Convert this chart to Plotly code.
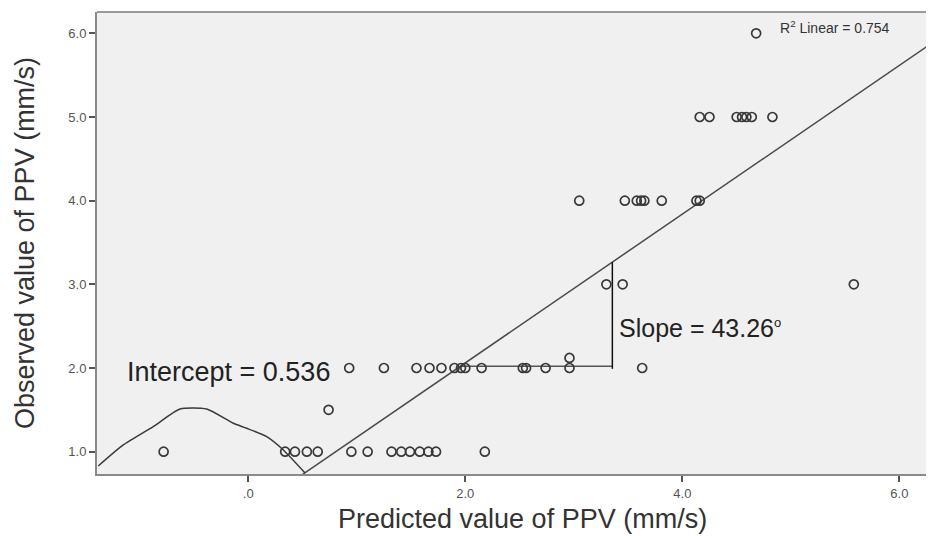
import plotly.graph_objects as go

# ---- data ----
obs_1_0_x = [-0.78, 0.34, 0.43, 0.54, 0.64, 0.95, 1.10, 1.32, 1.41, 1.49, 1.58, 1.66, 1.73, 2.18]
obs_1_5_x = [0.74]
obs_2_0_x = [0.93, 1.25, 1.55, 1.67, 1.78, 1.90, 1.96, 2.00, 2.15, 2.53, 2.56, 2.74, 2.96, 3.63]
obs_2_1_x = [2.96]
obs_3_0_x = [3.30, 3.45, 5.58]
obs_4_0_x = [3.05, 3.47, 3.58, 3.62, 3.65, 3.81, 4.13, 4.16]
obs_5_0_x = [4.16, 4.25, 4.50, 4.55, 4.59, 4.64, 4.83]
obs_6_0_x = [4.68]

rows = [(1.0, obs_1_0_x), (1.5, obs_1_5_x), (2.0, obs_2_0_x), (2.12, obs_2_1_x),
        (3.0, obs_3_0_x), (4.0, obs_4_0_x), (5.0, obs_5_0_x), (6.0, obs_6_0_x)]
predicted = [x for yv, xs in rows for x in xs]
observed = [yv for yv, xs in rows for x in xs]

# fitted line
fit_intercept = 0.283
fit_slope = 0.889
x_range = [-1.394, 6.319]
y_range = [0.733, 6.255]

# hand-drawn curve near the intercept
curve_x = [-1.382, -1.152, -0.876, -0.629, -0.383, -0.138, -0.015, 0.170, 0.323, 0.523]
curve_y = [0.829, 1.080, 1.299, 1.510, 1.510, 1.339, 1.280, 1.179, 1.020, 0.745]

# slope triangle
slope_x = 3.355
slope_base_y = 2.02

x_tickvals = [0, 2, 4, 6]
x_ticktext = [".0", "2.0", "4.0", "6.0"]
y_tickvals = [1, 2, 3, 4, 5, 6]
y_ticktext = ["1.0", "2.0", "3.0", "4.0", "5.0", "6.0"]

FONT = "Liberation Sans, Arial, sans-serif"

fig = go.Figure()

fig.add_trace(go.Scatter(
    x=x_range, y=[fit_intercept + fit_slope * v for v in x_range],
    mode="lines", line=dict(color="#4a4a4a", width=1.5), hoverinfo="skip"))

fig.add_trace(go.Scatter(
    x=curve_x, y=curve_y, mode="lines", line_shape="spline",
    line=dict(color="#3a3a3a", width=1.5, smoothing=0.6), hoverinfo="skip"))

x_cross = (slope_base_y - fit_intercept) / fit_slope
fig.add_trace(go.Scatter(
    x=[x_cross, slope_x], y=[slope_base_y, slope_base_y], mode="lines",
    line=dict(color="#555555", width=1.5), hoverinfo="skip"))
fig.add_trace(go.Scatter(
    x=[slope_x, slope_x], y=[slope_base_y - 0.03, fit_intercept + fit_slope * slope_x],
    mode="lines", line=dict(color="#111111", width=1.5), hoverinfo="skip"))

fig.add_trace(go.Scatter(
    x=predicted, y=observed, mode="markers",
    marker=dict(symbol="circle-open", size=9, color="#383838", line=dict(width=1.7)),
    hoverinfo="skip"))

# page body has an 8px margin: figure is sized to fit the 934x536 window
fig.update_layout(
    width=926, height=528,
    margin=dict(l=89, r=0, t=4, b=62),
    paper_bgcolor="white", plot_bgcolor="#f0f0f0",
    showlegend=False,
    font=dict(family=FONT, color="#333333"),
    xaxis=dict(range=x_range, tickvals=x_tickvals, ticktext=x_ticktext,
               showgrid=False, zeroline=False, showline=True, linecolor="#8a8a8a",
               linewidth=2, ticks="outside", ticklen=6, tickwidth=1.5, tickcolor="#555555",
               tickfont=dict(size=13, color="#555555", family=FONT)),
    yaxis=dict(range=y_range, tickvals=y_tickvals, ticktext=y_ticktext,
               showgrid=False, zeroline=False, showline=True, linecolor="#8a8a8a",
               linewidth=2, ticks="outside", ticklen=6, tickwidth=1.5, tickcolor="#555555",
               tickfont=dict(size=13, color="#555555", family=FONT)),
    shapes=[dict(type="line", xref="paper", yref="paper", x0=0, x1=1, y0=1, y1=1,
                 line=dict(color="#9a9a9a", width=2))],
)

fig.add_annotation(text="Predicted value of PPV (mm/s)", xref="paper", yref="paper",
                   x=0.508, y=-0.097, xanchor="center", yanchor="middle", showarrow=False,
                   font=dict(size=27, color="#333333", family=FONT))
fig.add_annotation(text="Observed value of PPV (mm/s)", xref="paper", yref="paper",
                   x=-0.086, y=0.5, xanchor="center", yanchor="middle", textangle=-90,
                   showarrow=False, font=dict(size=27, color="#333333", family=FONT))
fig.add_annotation(text="Intercept = 0.536", x=-1.136, y=1.95, xanchor="left",
                   yanchor="middle", showarrow=False,
                   font=dict(size=27, color="#222222", family=FONT))
fig.add_annotation(text="Slope = 43.26<sup><span style='font-size:13px'>o</span></sup>",
                   x=3.40, y=2.48, xanchor="left",
                   yanchor="middle", showarrow=False,
                   font=dict(size=25, color="#222222", family=FONT))
fig.add_annotation(text="R<sup>2</sup> Linear = 0.754", x=4.88, y=6.075, xanchor="left",
                   yanchor="middle", showarrow=False,
                   font=dict(size=14, color="#333333", family=FONT))

fig.write_html("out.html")
